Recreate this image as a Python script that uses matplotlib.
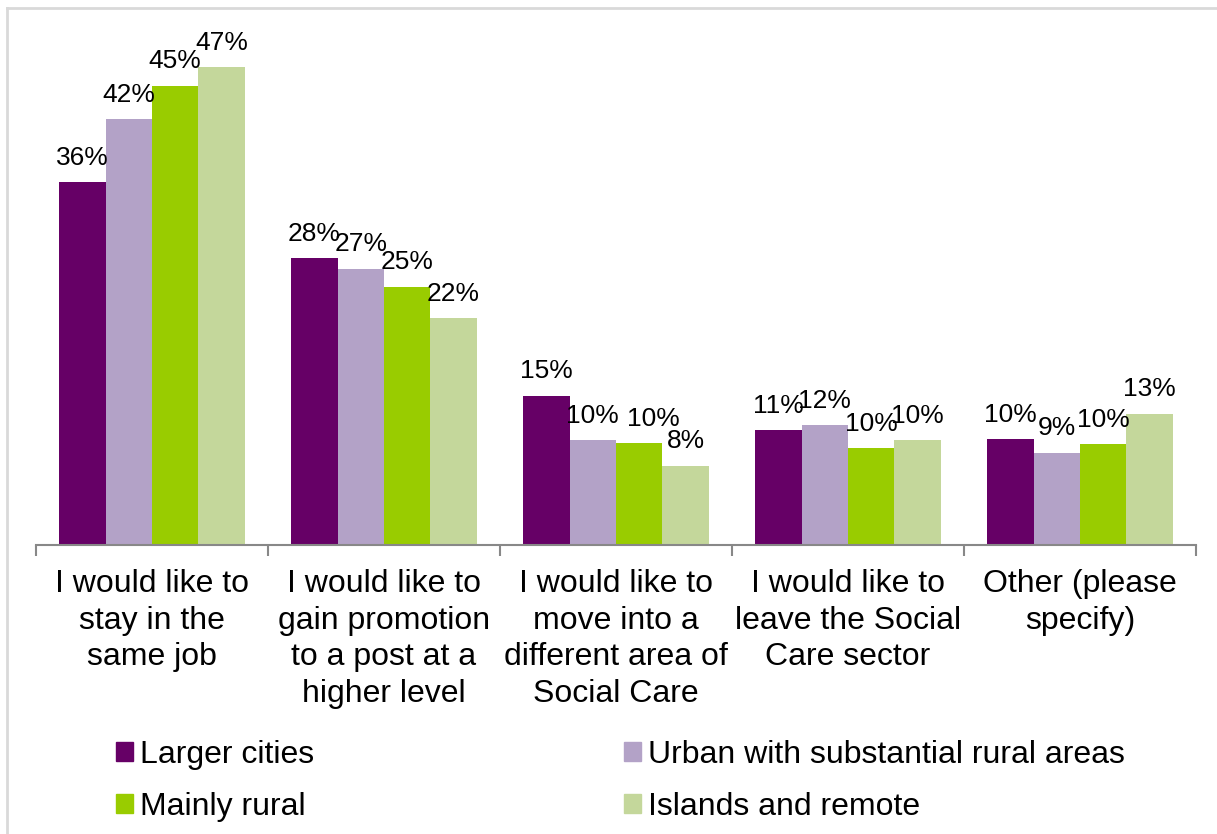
import matplotlib.pyplot as plt
from matplotlib.lines import Line2D
from matplotlib.patches import Patch
import numpy as np

plt.rcParams['font.family'] = ['Liberation Sans', 'DejaVu Sans']

categories = ['I would like to\nstay in the\nsame job',
              'I would like to\ngain promotion\nto a post at a\nhigher level',
              'I would like to\nmove into a\ndifferent area of\nSocial Care',
              'I would like to\nleave the Social\nCare sector',
              'Other (please\nspecify)']
series_names = ['Larger cities', 'Urban with substantial rural areas',
                'Mainly rural', 'Islands and remote']
larger_cities = [35.7, 28.2, 14.7, 11.3, 10.4]
urban_rural = [41.9, 27.2, 10.3, 11.8, 9.1]
mainly_rural = [45.2, 25.4, 10.0, 9.5, 9.9]
islands_remote = [47.0, 22.3, 7.8, 10.3, 12.9]
colors = ['#660066', '#B3A2C7', '#99CC00', '#C4D79B']

values = [larger_cities, urban_rural, mainly_rural, islands_remote]

# labels nudged sideways (points) so they don't collide, like the original
nudge = {(2, 2): 10}

fig = plt.figure(figsize=(12.17, 8.34), dpi=100)
ax = fig.add_axes([36 / 1217, 1 - 545 / 834, 1160 / 1217, 508 / 834])

x = np.arange(len(categories))
w = 0.2
for i, (vals, name, c) in enumerate(zip(values, series_names, colors)):
    pos = x - 0.3 + i * w
    ax.bar(pos, vals, width=w, color=c, label=name)
    for j, (px, v) in enumerate(zip(pos, vals)):
        ax.annotate(f'{v:.0f}%', (px, v), xytext=(nudge.get((j, i), 0), 9),
                    textcoords='offset points', ha='center', va='bottom', fontsize=19)

ax.set_xlim(-0.5, len(categories) - 0.5)
ax.set_ylim(0, 50)
ax.set_yticks([])
for s in ['top', 'right', 'left']:
    ax.spines[s].set_visible(False)
ax.spines['bottom'].set_color('#888888')
ax.spines['bottom'].set_linewidth(1.5)

ax.set_xticks(np.arange(-0.5, len(categories), 1.0))
ax.set_xticklabels([])
ax.tick_params(axis='x', which='major', length=8, color='#888888', width=1.5)
ax.set_xticks(x, minor=True)
ax.set_xticklabels(categories, minor=True, fontsize=23, linespacing=1.3, va='top')
ax.tick_params(axis='x', which='minor', length=0, pad=17)

# legend fills row by row like the original
order = [0, 2, 1, 3]
handles = [Patch(color=colors[k]) for k in order]
labels = [series_names[k] for k in order]
fig.legend(handles, labels, loc='upper left', bbox_to_anchor=(87 / 1217, 1 - 711 / 834),
           ncol=2, frameon=False, fontsize=23, handlelength=0.53, handleheight=0.53,
           handletextpad=0.22, columnspacing=9.7, labelspacing=0.7)

fig.add_artist(Line2D([7 / 1217, 1.0], [1 - 8 / 834, 1 - 8 / 834], color='#D9D9D9', lw=2))
fig.add_artist(Line2D([7 / 1217, 7 / 1217], [0.0, 1 - 8 / 834], color='#D9D9D9', lw=2))

fig.savefig('out.png', dpi=100)
